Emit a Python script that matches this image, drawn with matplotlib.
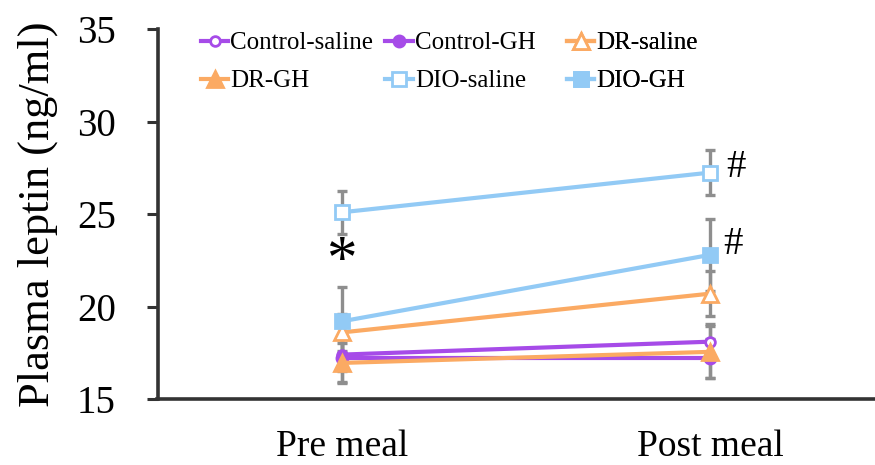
import matplotlib
matplotlib.use("Agg")
import matplotlib.pyplot as plt

plt.rcParams["font.family"] = ["Liberation Serif", "DejaVu Serif"]

# data
timepoints = ["Pre meal", "Post meal"]
series_names = ["Control-saline", "Control-GH", "DR-saline", "DR-GH", "DIO-saline", "DIO-GH"]
ctrl_saline = [17.4, 18.1]
ctrl_gh = [17.2, 17.2]
dr_saline = [18.6, 20.7]
dr_gh = [16.95, 17.55]
dio_saline = [25.1, 27.25]
dio_gh = [19.2, 22.8]

ctrl_saline_err = [0.9, 0.95]
ctrl_gh_err = [1.3, 1.05]
dr_saline_err = [1.0, 1.2]
dr_gh_err = [1.1, 1.4]
dio_saline_err = [1.15, 1.2]
dio_gh_err = [1.85, 1.95]

PURPLE = "#A64BE8"
ORANGE = "#FBAA63"
BLUE = "#92CAF5"
ERR = "#8E8E8E"

styles = [
    (ctrl_saline, ctrl_saline_err, PURPLE, "o", "white", 7),
    (ctrl_gh, ctrl_gh_err, PURPLE, "o", PURPLE, 8),
    (dr_saline, dr_saline_err, ORANGE, "^", "white", 11),
    (dr_gh, dr_gh_err, ORANGE, "^", ORANGE, 11),
    (dio_saline, dio_saline_err, BLUE, "s", "white", 10),
    (dio_gh, dio_gh_err, BLUE, "s", BLUE, 10),
]


def main():
    fig = plt.figure(figsize=(8.75, 4.65), dpi=100)
    ax = fig.add_axes([0.180, 0.142, 0.830, 0.795])
    x = list(range(len(timepoints)))

    # error bars first so the lines sit on top
    for vals, err, *_ in styles:
        ax.errorbar(x, vals, yerr=err, fmt="none", ecolor=ERR, elinewidth=2.4,
                    capsize=3.5, capthick=2.4, zorder=1)

    handles = []
    for name, (vals, err, col, mk, face, ms) in zip(series_names, styles):
        h, = ax.plot(x, vals, color=col, lw=3, marker=mk, markersize=ms,
                     markerfacecolor=face, markeredgecolor=col, markeredgewidth=2,
                     label=name, zorder=3)
        handles.append(h)

    # significance marks
    ax.text(0, 22.4, "*", fontsize=44, ha="center", va="center")
    ax.text(1.07, 27.5, "#", fontsize=28, ha="center", va="center")
    ax.text(1.06, 23.35, "#", fontsize=28, ha="center", va="center")

    ax.set_xlim(-0.5, 1.47)
    ax.set_ylim(15, 35)
    ax.set_yticks([15, 20, 25, 30, 35])
    ax.set_xticks(x)
    ax.set_xticklabels(timepoints)
    ax.set_ylabel("Plasma leptin (ng/ml)", fontsize=32, labelpad=14)

    ax.tick_params(axis="y", labelsize=28, length=8, width=2.2, color="#333333",
                   direction="out", pad=22)
    ax.tick_params(axis="x", labelsize=27, length=0, pad=22)

    for side in ["top", "right"]:
        ax.spines[side].set_visible(False)
    for side in ["left", "bottom"]:
        ax.spines[side].set_linewidth(2.6)
        ax.spines[side].set_color("#333333")

    # legend: fixed-width columns, filled row by row -> one small legend per column
    col_x = [0.046, 0.300, 0.550]
    for c, x0 in enumerate(col_x):
        idx = [c, c + 3]
        leg = ax.legend([handles[i] for i in idx], [series_names[i] for i in idx],
                        loc="upper left", bbox_to_anchor=(x0, 1.02),
                        fontsize=18, frameon=False, handlelength=1.1,
                        handletextpad=0.08, labelspacing=0.62, borderaxespad=0.2,
                        borderpad=0.2)
        ax.add_artist(leg)

    fig.savefig("out.png", dpi=100)


if __name__ == "__main__":
    main()
